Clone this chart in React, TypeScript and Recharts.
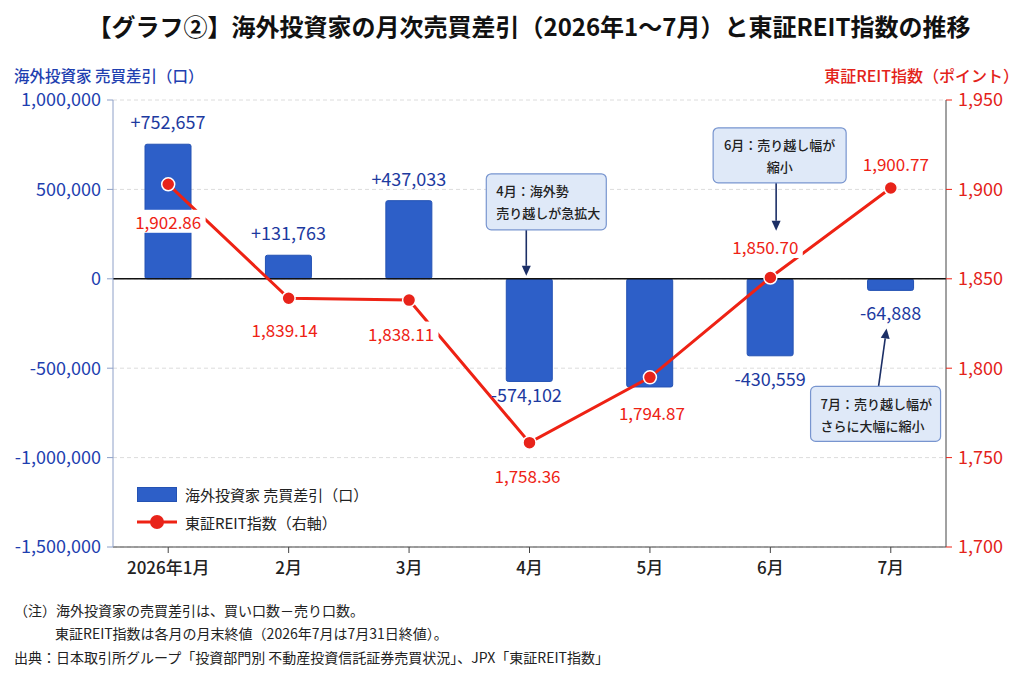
import {
  ComposedChart,
  Bar,
  Line,
  XAxis,
  YAxis,
  CartesianGrid,
  ReferenceLine,
  LabelList,
} from "recharts";

const FONT = '"Noto Sans CJK JP", "Noto Sans", sans-serif';

const months = ["2026年1月", "2月", "3月", "4月", "5月", "6月", "7月"];
const netFlow = [752657, 131763, 437033, -574102, -605000, -430559, -64888];
const reitIndex = [1902.86, 1839.14, 1838.11, 1758.36, 1794.87, 1850.7, 1900.77];
const flowTicks = [-1500000, -1000000, -500000, 0, 500000, 1000000];
const reitTicks = [1700, 1750, 1800, 1850, 1900, 1950];
// 5月 has no value label in the source
const flowLabelShown = [true, true, true, true, false, true, true];
const notes: (string[] | null)[] = [
  null,
  null,
  null,
  ["4月：海外勢", "売り越しが急拡大"],
  null,
  ["6月：売り越し幅が", "縮小"],
  ["7月：売り越し幅が", "さらに大幅に縮小"],
];

// label placement (layout only)
const reitDx = [0, -4, -8, -2, 2, -5, 5];
const reitDy = [37, 31, 33, 33, 35, -31, -25];
const noteLayout: Record<number, any> = {
  3: { ref: "top", bx: -43, by: -105, bw: 120, bh: 56, anchor: "start", ax1: -3, ay1: -49, ax2: -3, ay2: -3 },
  5: { ref: "top", bx: -57, by: -151, bw: 133, bh: 55, anchor: "middle", ax1: 6, ay1: -96, ax2: 6, ay2: -48 },
  6: { ref: "bottom", bx: -80, by: 96, bw: 130, bh: 55, anchor: "start", ax1: -12, ay1: 96, ax2: -4, ay2: 38 },
};

const BLUE = "#2d5fc8";
const BLUE_TEXT = "#1d3a9f";
const RED = "#ee2214";

const chartData = months.map((m, i) => ({ month: m, flow: netFlow[i], reit: reitIndex[i] }));

const fmtFlow = (v: number) => (v > 0 ? "+" : "") + v.toLocaleString("en-US");

function barBox(props: any) {
  const vb = props.viewBox ?? props;
  const top = Math.min(vb.y, vb.y + vb.height);
  const bottom = Math.max(vb.y, vb.y + vb.height);
  return { cx: vb.x + vb.width / 2, top, bottom };
}

function FlowLabel(props: any) {
  const i = props.index;
  if (!flowLabelShown[i]) return null;
  const { cx, top, bottom } = barBox(props);
  const v = netFlow[i];
  const y = v >= 0 ? top - 23 : bottom + (i === 3 ? 13 : 22);
  return (
    <text
      x={i === 3 ? cx - 3 : cx}
      y={y}
      textAnchor="middle"
      dominantBaseline="central"
      fill={BLUE_TEXT}
      fontSize={18}
      fontFamily={FONT}
    >
      {fmtFlow(v)}
    </text>
  );
}

function Arrow({ x1, y1, x2, y2 }: { x1: number; y1: number; x2: number; y2: number }) {
  const ang = Math.atan2(y2 - y1, x2 - x1);
  const len = 10;
  const hw = 4.5;
  const bx = x2 - len * Math.cos(ang);
  const by = y2 - len * Math.sin(ang);
  const px = -Math.sin(ang) * hw;
  const py = Math.cos(ang) * hw;
  return (
    <g>
      <line x1={x1} y1={y1} x2={bx} y2={by} stroke="#1c2f66" strokeWidth={1.6} />
      <polygon points={`${x2},${y2} ${bx + px},${by + py} ${bx - px},${by - py}`} fill="#1c2f66" />
    </g>
  );
}

function NoteLabel(props: any) {
  const i = props.index;
  const lines = notes[i];
  const lay = noteLayout[i];
  if (!lines || !lay) return null;
  const { cx, top, bottom } = barBox(props);
  const ry = lay.ref === "top" ? top : bottom;
  const bx = cx + lay.bx;
  const by = ry + lay.by;
  const tx = lay.anchor === "start" ? bx + 10 : bx + lay.bw / 2;
  return (
    <g>
      <Arrow x1={cx + lay.ax1} y1={ry + lay.ay1} x2={cx + lay.ax2} y2={ry + lay.ay2} />
      <rect x={bx} y={by} width={lay.bw} height={lay.bh} rx={5} fill="#dfe9f8" stroke="#7895cf" strokeWidth={1.2} />
      {lines.map((t, k) => (
        <text
          key={k}
          x={tx}
          y={by + 17 + k * 22}
          textAnchor={lay.anchor}
          dominantBaseline="central"
          fontSize={13}
          fontWeight={500}
          fill="#222"
          fontFamily={FONT}
        >
          {t}
        </text>
      ))}
    </g>
  );
}

function ReitLabel(props: any) {
  const vb = props.viewBox ?? props;
  const i = props.index;
  const x = vb.x + reitDx[i];
  const y = vb.y + reitDy[i];
  const txt = reitIndex[i].toLocaleString("en-US", { minimumFractionDigits: 2, maximumFractionDigits: 2 });
  const w = txt.length * 8.6 + 6;
  return (
    <g>
      <rect x={x - w / 2} y={y - 11.5} width={w} height={23} fill="#fff" />
      <text x={x} y={y} textAnchor="middle" dominantBaseline="central" fill={RED} fontSize={17} fontFamily={FONT}>
        {txt}
      </text>
    </g>
  );
}

const noteStyle = { position: "absolute" as const, fontSize: 14, lineHeight: "20px", color: "#222" };

export default function App() {
  return (
    <div
      style={{
        position: "absolute",
        left: 0,
        top: 0,
        width: 1024,
        height: 683,
        background: "#fff",
        fontFamily: FONT,
        overflow: "hidden",
      }}
    >
      <div
        style={{
          position: "absolute",
          top: 10,
          left: 17,
          width: 1024,
          textAlign: "center",
          fontSize: 24,
          lineHeight: "32px",
          fontWeight: 700,
          color: "#111",
        }}
      >
        【グラフ②】海外投資家の月次売買差引（2026年1～7月）と東証REIT指数の推移
      </div>
      <div style={{ position: "absolute", top: 65, left: 14, fontSize: 15.5, lineHeight: "20px", fontWeight: 500, color: "#1f3fb0" }}>
        海外投資家 売買差引（口）
      </div>
      <div style={{ position: "absolute", top: 65, right: 5, fontSize: 16, lineHeight: "20px", fontWeight: 500, color: "#e3231a" }}>
        東証REIT指数（ポイント）
      </div>

      <div style={{ position: "absolute", left: 0, top: 0 }}>
        <ComposedChart
          width={1024}
          height={683}
          data={chartData}
          margin={{ top: 100, right: 0, bottom: 96, left: 0 }}
        >
          <CartesianGrid yAxisId="left" vertical={false} stroke="#dcdcdc" strokeDasharray="4 3" />
          <XAxis
            dataKey="month"
            height={40}
            padding={{ left: -5, right: -5 }}
            axisLine={{ stroke: "#444" }}
            tickLine={{ stroke: "#444" }}
            tickSize={6}
            tickMargin={9}
            tick={{ fill: "#222", fontSize: 17, fontWeight: 500, fontFamily: FONT }}
          />
          <YAxis
            yAxisId="left"
            width={113}
            domain={[-1500000, 1000000]}
            ticks={flowTicks}
            tickFormatter={(v: number) => v.toLocaleString("en-US")}
            axisLine={{ stroke: "#8ea0c8" }}
            tickLine={{ stroke: "#8ea0c8" }}
            tickSize={6}
            tickMargin={6}
            tick={{ fill: "#1f3fb0", fontSize: 18, fontFamily: FONT }}
          />
          <YAxis
            yAxisId="right"
            orientation="right"
            width={78}
            domain={[1700, 1950]}
            ticks={reitTicks}
            tickFormatter={(v: number) => v.toLocaleString("en-US")}
            axisLine={{ stroke: "#444" }}
            tickLine={{ stroke: RED }}
            tickSize={6}
            tickMargin={6}
            tick={{ fill: "#e3231a", fontSize: 18, fontFamily: FONT }}
          />
          <ReferenceLine yAxisId="left" y={0} stroke="#111" strokeWidth={1.6} />
          <Bar yAxisId="left" dataKey="flow" fill={BLUE} stroke="#2452b3" strokeWidth={1} barSize={46} radius={2} isAnimationActive={false}>
            <LabelList dataKey="flow" content={FlowLabel} />
            <LabelList dataKey="flow" content={NoteLabel} />
          </Bar>
          <Line
            yAxisId="right"
            dataKey="reit"
            stroke={RED}
            strokeWidth={3}
            dot={{ r: 6.5, fill: "#e8231a", stroke: "#fff", strokeWidth: 1.5 }}
            activeDot={false}
            isAnimationActive={false}
          >
            <LabelList dataKey="reit" content={ReitLabel} />
          </Line>
        </ComposedChart>
      </div>

      <div style={{ position: "absolute", left: 137, top: 484, fontSize: 15, color: "#222" }}>
        <div style={{ display: "flex", alignItems: "center", height: 20 }}>
          <span style={{ display: "inline-block", width: 40, height: 15, background: BLUE, border: "1px solid #2452b3", boxSizing: "border-box" }} />
          <span style={{ marginLeft: 8 }}>海外投資家 売買差引（口）</span>
        </div>
        <div style={{ display: "flex", alignItems: "center", height: 20, marginTop: 8 }}>
          <svg width={40} height={16}>
            <line x1={0} y1={8} x2={40} y2={8} stroke={RED} strokeWidth={3} />
            <circle cx={20} cy={8} r={7} fill="#e8231a" />
          </svg>
          <span style={{ marginLeft: 8 }}>東証REIT指数（右軸）</span>
        </div>
      </div>

      <div style={{ ...noteStyle, left: 14, top: 600 }}>
        （注）海外投資家の売買差引は、買い口数－売り口数。
      </div>
      <div style={{ ...noteStyle, left: 55, top: 623 }}>
        東証REIT指数は各月の月末終値（2026年7月は7月31日終値）。
      </div>
      <div style={{ ...noteStyle, left: 14, top: 647 }}>
        出典：日本取引所グループ「投資部門別 不動産投資信託証券売買状況」、JPX「東証REIT指数」
      </div>
    </div>
  );
}
